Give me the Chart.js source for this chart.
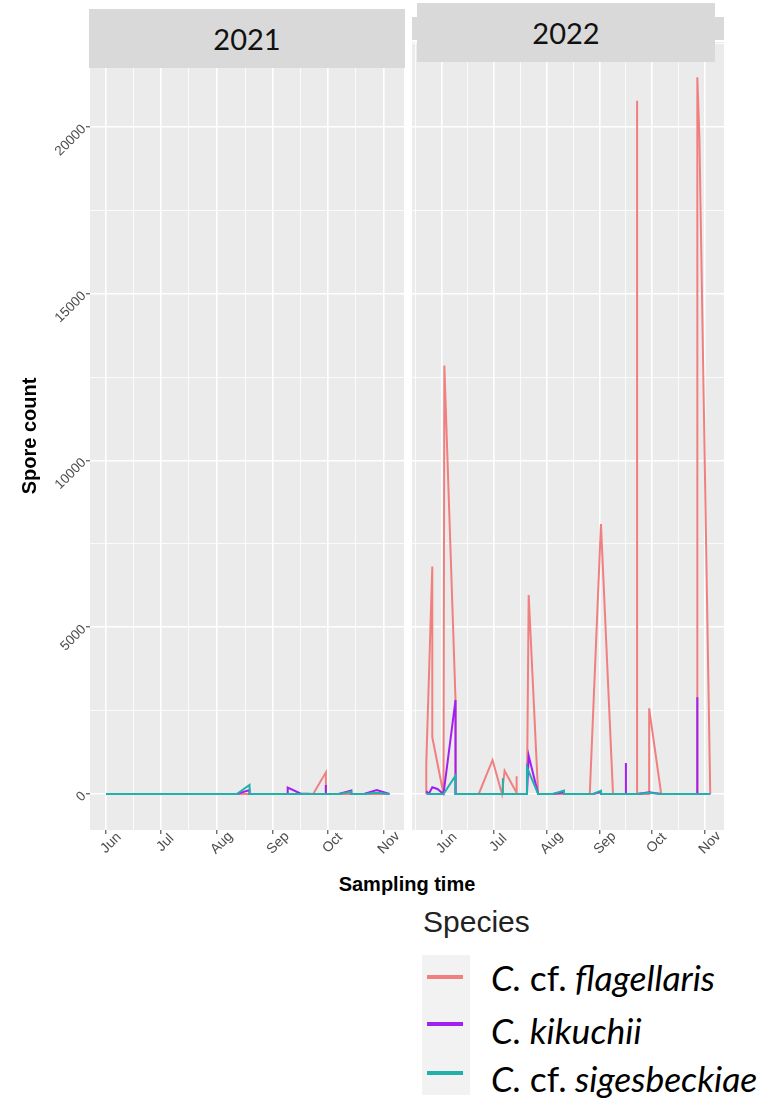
<!DOCTYPE html>
<html>
<head>
<meta charset="utf-8">
<script src="https://cdn.jsdelivr.net/npm/chart.js@4.4.1/dist/chart.umd.min.js"></script>
<style>
  body { margin: 0; background: #fff; width: 773px; height: 1107px; position: relative; overflow: hidden; }
  canvas { position: absolute; top: 0; }
  .strip { position: absolute; background: #d9d9d9; display: flex; align-items: center; justify-content: center;
           font-family: Lato, sans-serif; font-size: 29px; color: #111; }
  .band { position: absolute; background: #d9d9d9; }
  #xtitle { position: absolute; left: 257px; width: 300px; top: 873px; text-align: center; line-height: 24px;
            font: bold 20px "Liberation Sans", Arial, sans-serif; color: #000; }
  #legTitle { position: absolute; left: 423px; top: 905px; font: 30px "Liberation Sans", Arial, sans-serif; line-height: 34px; color: #222; }
  #keyBox { position: absolute; left: 422px; top: 955px; width: 48px; height: 140px; background: #f2f2f2; }
  .key { position: absolute; left: 427px; width: 36px; height: 4px; }
  .lab { position: absolute; left: 491px; font: italic 35.5px Lato, sans-serif; line-height: 1.2; color: #000; white-space: nowrap; }
  .up { font-style: normal; }
</style>
</head>
<body>
<canvas id="c2021" width="406" height="870" style="left:0"></canvas>
<canvas id="c2022" width="367" height="870" style="left:406px"></canvas>

<div class="strip" style="left:89px; top:9px; width:316px; height:59px;">2021</div>
<div class="band" style="left:412px; top:17px; width:312px; height:23px;"></div>
<div class="strip" style="left:417px; top:3px; width:298px; height:59px;">2022</div>

<div id="xtitle">Sampling time</div>

<div id="legTitle">Species</div>
<div id="keyBox"></div>
<div class="key" id="k0" style="top:975px"></div>
<div class="key" id="k1" style="top:1022px"></div>
<div class="key" id="k2" style="top:1071px"></div>
<div class="lab" style="top:957px"><i>C.</i> <span class="up">cf.</span> <i>flagellaris</i></div>
<div class="lab" style="top:1010px"><i>C. kikuchii</i></div>
<div class="lab" style="top:1058px"><i>C.</i> <span class="up">cf.</span> <i>sigesbeckiae</i></div>

<script>
// axis breaks (day of year)
const monthDays = [152, 182, 213, 244, 274, 305];
const monthLabels = ["Jun", "Jul", "Aug", "Sep", "Oct", "Nov"];
const minorDays = [137, 167, 197.5, 228.5, 259, 289.5];
const yMajor = [0, 5000, 10000, 15000, 20000];
const yMinor = [2500, 7500, 12500, 17500, 22500];

const speciesNames = ["C. cf. flagellaris", "C. kikuchii", "C. cf. sigesbeckiae"];
const speciesColors = ["#f08080", "#a020f0", "#20b2aa"];

// 2021
const flag21Days = [152,161,168,175,182,189,196,203,210,217,224,231,238,245,252,259,266,273,273,280,287,294,301,308];
const flag21Counts = [0,0,0,0,0,0,0,0,0,0,0,0,0,0,0,0,0,650,0,0,0,0,0,0];
const kiku21Days = [152,161,168,175,182,189,196,203,210,217,224,231,231,238,245,252,252,259,266,273,273,273,280,287,287,294,301,308];
const kiku21Counts = [0,0,0,0,0,0,0,0,0,0,0,120,0,0,0,0,190,15,0,0,270,0,0,100,0,0,120,0];
const sige21Days = [152,161,168,175,182,189,196,203,210,217,224,231,231,238,245,252,259,266,273,280,287,287,294,301,308];
const sige21Counts = [0,0,0,0,0,0,0,0,0,0,0,270,0,0,0,0,0,0,0,0,70,0,0,40,0];

// 2022
const flag22Days = [143,143,146.5,146.5,153,153.5,160,160,167,173.5,181.5,187,188.5,195.5,195.5,195.5,201.5,202.5,208,216.5,223,230,238,244.5,251.5,259,265.5,265.5,265.5,272.5,272.5,279.5,286,293,300.5,300.5,301.7,308];
const flag22Counts = [0,920,6820,1700,0,12850,2800,0,0,0,1020,0,700,40,530,0,0,5970,0,0,0,0,0,8100,0,0,0,20790,0,0,2570,0,0,0,0,21500,19700,0];
const kiku22Days = [143,144.5,146.5,149.5,153,160,160,167,174,181,188,195.5,201.5,202.5,208,216.5,223,223,230,240,244.5,244.5,251.5,259,259,259,265.5,272.5,279.5,286,293,300.5,300.5,300.5,308];
const kiku22Counts = [80,10,200,150,0,2820,0,0,0,0,0,0,0,1150,0,0,50,0,0,0,60,0,0,0,930,0,0,50,0,0,0,0,2900,0,0];
const sige22Days = [143,153,160,160,167,174,181,187.5,187.5,187.5,195.5,201.5,201.5,208,216.5,223,223,230,240,244.5,244.5,251.5,259,265.5,272.5,279.5,286,293,300.5,308];
const sige22Counts = [0,0,550,0,0,0,0,0,470,0,0,0,800,0,0,100,0,0,0,100,0,0,0,0,40,0,0,0,0,0];

speciesColors.forEach((c, i) => { document.getElementById("k" + i).style.background = c; });

const panelBg = {
    id: "panelBg",
    beforeDraw(chart) {
        const a = chart.chartArea;
        chart.ctx.save();
        chart.ctx.fillStyle = "#ebebeb";
        chart.ctx.fillRect(a.left, a.top, a.right - a.left, a.bottom - a.top);
        chart.ctx.restore();
    }
};

// ggplot style rotated month labels (centred under the tick)
const monthText = {
    id: "monthText",
    afterDraw(chart) {
        const ctx = chart.ctx;
        const xs = chart.scales.x;
        const top = chart.chartArea.bottom + 8;
        ctx.save();
        ctx.fillStyle = "#4d4d4d";
        ctx.font = "14px 'Liberation Sans'";
        ctx.textAlign = "center";
        ctx.textBaseline = "top";
        monthDays.forEach((d, i) => {
            ctx.save();
            ctx.translate(xs.getPixelForValue(d), top);
            ctx.rotate(-Math.PI / 4);
            ctx.fillText(monthLabels[i], 0, 0);
            ctx.restore();
        });
        ctx.restore();
    }
};

function makeChart(id, days, counts, xMin, showY, rightPad) {
    const isMonth = v => monthDays.includes(v);
    const isMajorY = v => v % 5000 === 0;
    return new Chart(document.getElementById(id), {
        type: "line",
        data: {
            datasets: speciesNames.map((name, s) => ({
                label: name,
                data: days[s].map((d, i) => ({ x: d, y: counts[s][i] })),
                borderColor: speciesColors[s],
                borderWidth: 2,
                pointRadius: 0,
                tension: 0,
                order: 3 - s
            }))
        },
        options: {
            responsive: false,
            animation: false,
            layout: { padding: { top: 42, left: 0, right: rightPad, bottom: 0 } },
            plugins: { legend: { display: false }, tooltip: { enabled: false } },
            scales: {
                x: {
                    type: "linear",
                    min: xMin,
                    max: 316,
                    afterBuildTicks: sc => {
                        sc.ticks = monthDays.concat(minorDays)
                            .filter(v => v >= sc.min && v <= sc.max)
                            .sort((a, b) => a - b)
                            .map(v => ({ value: v }));
                    },
                    afterFit: sc => { sc.height = 40; },
                    border: { display: false },
                    grid: {
                        color: "#ffffff",
                        lineWidth: c => (c.tick && isMonth(c.tick.value) ? 1.6 : 0.8),
                        tickLength: 4,
                        tickWidth: 1,
                        tickColor: c => (c.tick && isMonth(c.tick.value) ? "#333333" : "rgba(0,0,0,0)")
                    },
                    ticks: { display: false, autoSkip: false }
                },
                y: {
                    type: "linear",
                    min: -1080,
                    max: 22555,
                    afterBuildTicks: sc => {
                        sc.ticks = yMajor.concat(yMinor).sort((a, b) => a - b).map(v => ({ value: v }));
                    },
                    afterFit: sc => { sc.width = showY ? 90 : 6; },
                    border: { display: false },
                    grid: {
                        color: "#ffffff",
                        lineWidth: c => (c.tick && isMajorY(c.tick.value) ? 1.6 : 0.8),
                        drawTicks: showY,
                        tickLength: 4,
                        tickWidth: 1,
                        tickColor: c => (c.tick && isMajorY(c.tick.value) ? "#333333" : "rgba(0,0,0,0)")
                    },
                    ticks: {
                        display: showY,
                        autoSkip: false,
                        minRotation: 45,
                        maxRotation: 45,
                        padding: 2,
                        color: "#4d4d4d",
                        font: { family: "Liberation Sans", size: 13.5 },
                        callback: v => (isMajorY(v) ? String(v) : "")
                    },
                    title: {
                        display: showY,
                        text: "Spore count",
                        color: "#000",
                        font: { family: "Liberation Sans", size: 20, weight: "bold" },
                        padding: { top: 18, bottom: 0 }
                    }
                }
            }
        },
        plugins: [panelBg, monthText]
    });
}

makeChart("c2021", [flag21Days, kiku21Days, sige21Days], [flag21Counts, kiku21Counts, sige21Counts], 143.2, true, 2);
makeChart("c2022", [flag22Days, kiku22Days, sige22Days], [flag22Counts, kiku22Counts, sige22Counts], 134.7, false, 49);
</script>
</body>
</html>
